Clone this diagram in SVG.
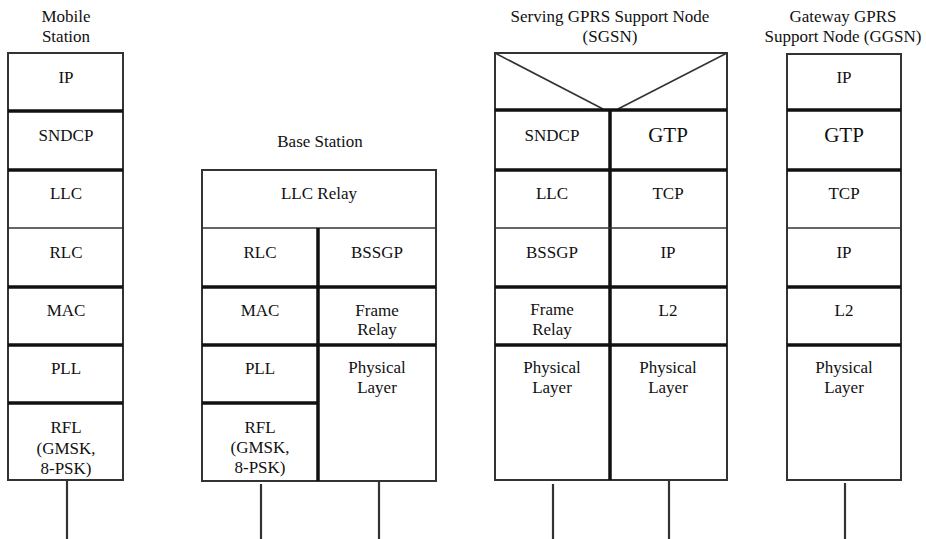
<svg xmlns="http://www.w3.org/2000/svg" width="926" height="539" viewBox="0 0 926 539">
<style>
  .box{fill:#fff;stroke:#333;stroke-width:2}
  .thick{stroke:#111;stroke-width:3.5;fill:none}
  .thin{stroke:#333;stroke-width:1.6;fill:none}
  .t{font-family:"Liberation Serif","Times New Roman",serif;font-size:17px;fill:#111;text-anchor:middle}
  .big{font-size:21px}
  .conn{stroke:#333;stroke-width:2.2;fill:none}
</style>
<rect width="926" height="539" fill="#fff"/>

<g id="mobile-station">
  <text class="t" x="66" y="22">Mobile</text>
  <text class="t" x="66" y="42">Station</text>
  <rect class="box" x="8" y="53" width="115" height="427"/>
  <line class="thick" x1="8" y1="111" x2="123" y2="111"/>
  <line class="thick" x1="8" y1="170" x2="123" y2="170"/>
  <line class="thin" x1="8" y1="228" x2="123" y2="228"/>
  <line class="thick" x1="8" y1="287" x2="123" y2="287"/>
  <line class="thick" x1="8" y1="345" x2="123" y2="345"/>
  <line class="thick" x1="8" y1="403" x2="123" y2="403"/>
  <text class="t" x="66" y="83">IP</text>
  <text class="t" x="66" y="141">SNDCP</text>
  <text class="t" x="66" y="199">LLC</text>
  <text class="t" x="66" y="258">RLC</text>
  <text class="t" x="66" y="316">MAC</text>
  <text class="t" x="66" y="374">PLL</text>
  <text class="t" x="66" y="433">RFL</text>
  <text class="t" x="66" y="454">(GMSK,</text>
  <text class="t" x="66" y="474">8-PSK)</text>
</g>

<g id="base-station">
  <text class="t" x="320" y="147">Base Station</text>
  <rect class="box" x="202" y="170" width="234" height="311"/>
  <line class="thin" x1="202" y1="228" x2="436" y2="228"/>
  <line class="thick" x1="318" y1="228" x2="318" y2="481"/>
  <line class="thick" x1="202" y1="287" x2="436" y2="287"/>
  <line class="thick" x1="202" y1="345" x2="436" y2="345"/>
  <line class="thick" x1="202" y1="403" x2="318" y2="403"/>
  <text class="t" x="319" y="199">LLC Relay</text>
  <text class="t" x="260" y="258">RLC</text>
  <text class="t" x="377" y="258">BSSGP</text>
  <text class="t" x="260" y="316">MAC</text>
  <text class="t" x="377" y="316">Frame</text>
  <text class="t" x="377" y="335">Relay</text>
  <text class="t" x="260" y="374">PLL</text>
  <text class="t" x="377" y="373">Physical</text>
  <text class="t" x="377" y="393">Layer</text>
  <text class="t" x="260" y="433">RFL</text>
  <text class="t" x="260" y="453">(GMSK,</text>
  <text class="t" x="260" y="473">8-PSK)</text>
</g>

<g id="sgsn">
  <text class="t" x="610" y="22">Serving GPRS Support Node</text>
  <text class="t" x="610" y="42">(SGSN)</text>
  <rect class="box" x="495" y="53" width="232" height="427"/>
  <line class="thin" x1="495" y1="53" x2="603" y2="109"/>
  <line class="thin" x1="727" y1="53" x2="618" y2="109"/>
  <line class="thick" x1="495" y1="110" x2="727" y2="110"/>
  <line class="thick" x1="610" y1="110" x2="610" y2="480"/>
  <line class="thick" x1="495" y1="170" x2="727" y2="170"/>
  <line class="thin" x1="495" y1="228" x2="727" y2="228"/>
  <line class="thick" x1="495" y1="287" x2="727" y2="287"/>
  <line class="thick" x1="495" y1="345" x2="727" y2="345"/>
  <text class="t" x="552" y="141">SNDCP</text>
  <text class="t big" x="668" y="142">GTP</text>
  <text class="t" x="552" y="199">LLC</text>
  <text class="t" x="668" y="199">TCP</text>
  <text class="t" x="552" y="258">BSSGP</text>
  <text class="t" x="668" y="258">IP</text>
  <text class="t" x="552" y="315">Frame</text>
  <text class="t" x="552" y="335">Relay</text>
  <text class="t" x="668" y="316">L2</text>
  <text class="t" x="552" y="373">Physical</text>
  <text class="t" x="552" y="393">Layer</text>
  <text class="t" x="668" y="373">Physical</text>
  <text class="t" x="668" y="393">Layer</text>
</g>

<g id="ggsn">
  <text class="t" x="843" y="22">Gateway GPRS</text>
  <text class="t" x="843" y="42">Support Node (GGSN)</text>
  <rect class="box" x="787" y="54" width="114" height="426"/>
  <line class="thick" x1="787" y1="110" x2="901" y2="110"/>
  <line class="thick" x1="787" y1="170" x2="901" y2="170"/>
  <line class="thin" x1="787" y1="228" x2="901" y2="228"/>
  <line class="thick" x1="787" y1="287" x2="901" y2="287"/>
  <line class="thick" x1="787" y1="345" x2="901" y2="345"/>
  <text class="t" x="844" y="83">IP</text>
  <text class="t big" x="844" y="142">GTP</text>
  <text class="t" x="844" y="199">TCP</text>
  <text class="t" x="844" y="258">IP</text>
  <text class="t" x="844" y="316">L2</text>
  <text class="t" x="844" y="373">Physical</text>
  <text class="t" x="844" y="393">Layer</text>
</g>

<g id="connectors">
  <line class="conn" x1="67" y1="481" x2="67" y2="539"/>
  <line class="conn" x1="261" y1="484" x2="261" y2="539"/>
  <line class="conn" x1="379" y1="482" x2="379" y2="539"/>
  <line class="conn" x1="553" y1="484" x2="553" y2="539"/>
  <line class="conn" x1="669" y1="481" x2="669" y2="539"/>
  <line class="conn" x1="845" y1="483" x2="845" y2="539"/>
</g>
</svg>
